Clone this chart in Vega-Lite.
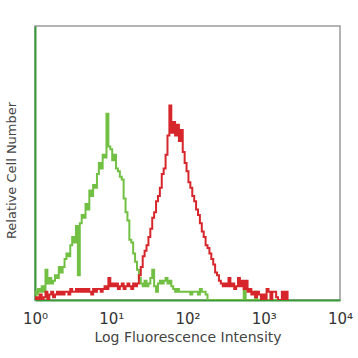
{
  "$schema": "https://vega.github.io/schema/vega-lite/v6.json",
  "width": 305,
  "height": 274,
  "autosize": "none",
  "padding": {"left": 35, "top": 26, "right": 18, "bottom": 58},
  "background": "white",
  "config": {"view": {"stroke": "#9a9a9a", "strokeWidth": 1.5}},
  "data": {"values": [
    {"x":1,"isotype":3,"antibody":0},{"x":1.059,"isotype":2,"antibody":1},{"x":1.122,"isotype":4,"antibody":0},{"x":1.189,"isotype":3,"antibody":2},{"x":1.259,"isotype":5,"antibody":0},{"x":1.334,"isotype":3,"antibody":1},{"x":1.413,"isotype":11,"antibody":3},{"x":1.496,"isotype":6,"antibody":0},{"x":1.585,"isotype":8,"antibody":2},{"x":1.679,"isotype":6,"antibody":3},
    {"x":1.778,"isotype":7,"antibody":1},{"x":1.884,"isotype":9,"antibody":2},{"x":1.995,"isotype":8,"antibody":3},{"x":2.113,"isotype":12,"antibody":2},{"x":2.239,"isotype":10,"antibody":3},{"x":2.371,"isotype":12,"antibody":2},{"x":2.512,"isotype":15,"antibody":3},{"x":2.661,"isotype":17,"antibody":3},{"x":2.818,"isotype":16,"antibody":2},{"x":2.985,"isotype":20,"antibody":4},
    {"x":3.162,"isotype":23,"antibody":3},{"x":3.35,"isotype":21,"antibody":3},{"x":3.548,"isotype":27,"antibody":4},{"x":3.758,"isotype":9,"antibody":3},{"x":3.981,"isotype":28,"antibody":4},{"x":4.217,"isotype":31,"antibody":3},{"x":4.467,"isotype":30,"antibody":4},{"x":4.732,"isotype":35,"antibody":3},{"x":5.012,"isotype":33,"antibody":4},{"x":5.309,"isotype":40,"antibody":3},
    {"x":5.623,"isotype":38,"antibody":2},{"x":5.957,"isotype":42,"antibody":4},{"x":6.31,"isotype":41,"antibody":3},{"x":6.683,"isotype":46,"antibody":4},{"x":7.079,"isotype":50,"antibody":4},{"x":7.499,"isotype":48,"antibody":3},{"x":7.943,"isotype":53,"antibody":4},{"x":8.414,"isotype":52,"antibody":5},{"x":8.913,"isotype":68,"antibody":4},{"x":9.441,"isotype":56,"antibody":8},
    {"x":10,"isotype":55,"antibody":5},{"x":10.59,"isotype":51,"antibody":6},{"x":11.22,"isotype":53,"antibody":5},{"x":11.89,"isotype":48,"antibody":6},{"x":12.59,"isotype":47,"antibody":4},{"x":13.34,"isotype":45,"antibody":5},{"x":14.13,"isotype":44,"antibody":6},{"x":14.96,"isotype":37,"antibody":4},{"x":15.85,"isotype":32,"antibody":5},{"x":16.79,"isotype":29,"antibody":6},
    {"x":17.78,"isotype":22,"antibody":5},{"x":18.84,"isotype":21,"antibody":4},{"x":19.95,"isotype":17,"antibody":6},{"x":21.13,"isotype":14,"antibody":5},{"x":22.39,"isotype":11,"antibody":6},{"x":23.71,"isotype":8,"antibody":9},{"x":25.12,"isotype":6,"antibody":12},{"x":26.61,"isotype":5,"antibody":16},{"x":28.18,"isotype":7,"antibody":18},{"x":29.85,"isotype":5,"antibody":20},
    {"x":31.62,"isotype":6,"antibody":23},{"x":33.5,"isotype":8,"antibody":26},{"x":35.48,"isotype":11,"antibody":30},{"x":37.58,"isotype":5,"antibody":32},{"x":39.81,"isotype":3,"antibody":36},{"x":42.17,"isotype":6,"antibody":38},{"x":44.67,"isotype":7,"antibody":41},{"x":47.32,"isotype":6,"antibody":46},{"x":50.12,"isotype":7,"antibody":48},{"x":53.09,"isotype":8,"antibody":53},
    {"x":56.23,"isotype":6,"antibody":60},{"x":59.57,"isotype":7,"antibody":71},{"x":63.1,"isotype":5,"antibody":61},{"x":66.83,"isotype":4,"antibody":65},{"x":70.79,"isotype":3,"antibody":60},{"x":74.99,"isotype":4,"antibody":64},{"x":79.43,"isotype":3,"antibody":58},{"x":84.14,"isotype":3,"antibody":62},{"x":89.13,"isotype":3,"antibody":54},{"x":94.41,"isotype":3,"antibody":50},
    {"x":100,"isotype":3,"antibody":47},{"x":105.9,"isotype":3,"antibody":43},{"x":112.2,"isotype":2,"antibody":41},{"x":118.9,"isotype":3,"antibody":38},{"x":125.9,"isotype":3,"antibody":36},{"x":133.4,"isotype":3,"antibody":33},{"x":141.3,"isotype":2,"antibody":31},{"x":149.6,"isotype":4,"antibody":28},{"x":158.5,"isotype":3,"antibody":25},{"x":167.9,"isotype":3,"antibody":23},
    {"x":177.8,"isotype":2,"antibody":20},{"x":188.4,"isotype":0,"antibody":19},{"x":199.5,"isotype":0,"antibody":17},{"x":211.3,"isotype":0,"antibody":15},{"x":223.9,"isotype":0,"antibody":13},{"x":237.1,"isotype":0,"antibody":10},{"x":251.2,"isotype":0,"antibody":9},{"x":266.1,"isotype":0,"antibody":7},{"x":281.8,"isotype":0,"antibody":6},{"x":298.5,"isotype":0,"antibody":5},
    {"x":316.2,"isotype":0,"antibody":6},{"x":335,"isotype":0,"antibody":5},{"x":354.8,"isotype":0,"antibody":8},{"x":375.8,"isotype":0,"antibody":5},{"x":398.1,"isotype":0,"antibody":6},{"x":421.7,"isotype":0,"antibody":4},{"x":446.7,"isotype":0,"antibody":5},{"x":473.2,"isotype":0,"antibody":8},{"x":501.2,"isotype":0,"antibody":5},{"x":530.9,"isotype":0,"antibody":7},
    {"x":562.3,"isotype":4,"antibody":4},{"x":595.7,"isotype":0,"antibody":7},{"x":631,"isotype":0,"antibody":3},{"x":668.3,"isotype":0,"antibody":4},{"x":707.9,"isotype":0,"antibody":2},{"x":749.9,"isotype":0,"antibody":3},{"x":794.3,"isotype":3,"antibody":1},{"x":841.4,"isotype":0,"antibody":3},{"x":891.3,"isotype":0,"antibody":2},{"x":944.1,"isotype":0,"antibody":0},
    {"x":1000,"isotype":0,"antibody":2},{"x":1059,"isotype":0,"antibody":0},{"x":1122,"isotype":0,"antibody":4},{"x":1189,"isotype":0,"antibody":3},{"x":1259,"isotype":0,"antibody":0},{"x":1334,"isotype":0,"antibody":3},{"x":1413,"isotype":0,"antibody":3},{"x":1496,"isotype":0,"antibody":1},{"x":1585,"isotype":0,"antibody":0},{"x":1679,"isotype":0,"antibody":0},
    {"x":1778,"isotype":0,"antibody":3},{"x":1884,"isotype":0,"antibody":0},{"x":1995,"isotype":0,"antibody":3},{"x":2113,"isotype":0,"antibody":0}
  ]},
  "transform": [{"fold": ["isotype", "antibody"], "as": ["series", "count"]}],
  "mark": {"type": "line", "interpolate": "step", "strokeWidth": 2, "clip": true},
  "encoding": {
    "x": {
      "field": "x", "type": "quantitative",
      "scale": {"type": "log", "domain": [1, 10000]},
      "axis": {
        "values": [1, 10, 100, 1000, 10000],
        "labelExpr": "'10' + ['⁰','¹','²','³','⁴'][round(log(datum.value)/LN10)]",
        "ticks": false, "grid": false,
        "domainColor": "#3a9a3a", "domainWidth": 2,
        "labelFont": "DejaVu Sans", "labelFontSize": 15, "labelColor": "#333333",
        "labelPadding": 11, "labelFlush": false,
        "title": "Log Fluorescence Intensity",
        "titleFont": "DejaVu Sans", "titleFontSize": 14, "titleFontWeight": "normal",
        "titleColor": "#444444", "titlePadding": 4
      }
    },
    "y": {
      "field": "count", "type": "quantitative",
      "scale": {"domain": [0, 100]},
      "axis": {
        "labels": false, "ticks": false, "grid": false,
        "domainColor": "#3a9a3a", "domainWidth": 2,
        "title": "Relative Cell Number",
        "titleFont": "DejaVu Sans", "titleFontSize": 13, "titleFontWeight": "normal",
        "titleColor": "#444444", "titlePadding": 17, "titleY": 144
      }
    },
    "color": {
      "field": "series", "type": "nominal",
      "scale": {"domain": ["isotype", "antibody"], "range": ["#72c043", "#d7262b"]},
      "legend": null
    }
  }
}
